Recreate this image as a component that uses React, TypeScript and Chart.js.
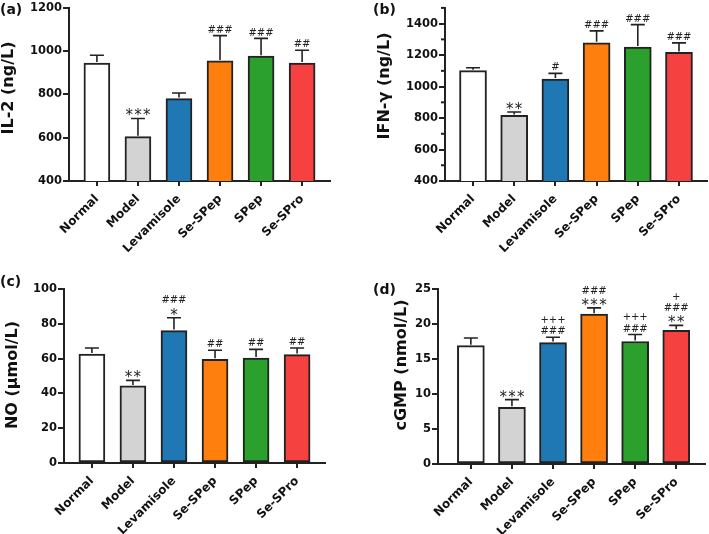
import React, { useEffect, useRef } from 'react';
import { Chart, registerables } from 'chart.js';

Chart.register(...registerables);

const categories = ['Normal', 'Model', 'Levamisole', 'Se-SPep', 'SPep', 'Se-SPro'];
const barColors = ['#ffffff', '#d3d3d3', '#1f77b4', '#ff7f0e', '#2ca02c', '#f64141'];

const il2Mean = [945, 605, 781, 955, 977, 945];
const il2Upper = [981, 689, 807, 1072, 1059, 1004];
const il2Marks = [[], ['***'], [], ['###'], ['###'], ['##']];
const il2Ticks = [400, 600, 800, 1000, 1200];

const ifnMean = [1101, 817, 1048, 1278, 1251, 1217];
const ifnUpper = [1120, 838, 1084, 1354, 1394, 1278];
const ifnMarks = [[], ['**'], ['#'], ['###'], ['###'], ['###']];
const ifnTicks = [400, 600, 800, 1000, 1200, 1400];
const ifnMinorTicks = [500, 700, 900, 1100, 1300, 1500];

const noMean = [62.6, 44.3, 76.1, 59.6, 60.3, 62.3];
const noUpper = [66.1, 47.5, 83.5, 64.8, 65.3, 66.1];
const noMarks = [[], ['**'], ['###', '*'], ['##'], ['##'], ['##']];
const noTicks = [0, 20, 40, 60, 80, 100];

const cgmpMean = [16.9, 8.1, 17.35, 21.4, 17.5, 19.1];
const cgmpUpper = [18.0, 9.2, 18.1, 22.3, 18.5, 19.8];
const cgmpMarks = [[], ['***'], ['+++', '###'], ['###', '***'], ['+++', '###'], ['+', '###', '**']];
const cgmpTicks = [0, 5, 10, 15, 20, 25];

const INK = '#222222';
const FONT = 'DejaVu Sans';

type Cfg = {
  letter: string; title: string; mean: number[]; upper: number[]; marks: string[][];
  ticks: number[]; minor: number[]; yMin: number; yMax: number;
  left: number; top: number; width: number; height: number;
  area: { l: number; t: number; r: number; b: number };
  xMin: number; xMax: number; titlePos: { x: number; y: number }; letterPos: { x: number; y: number }; barW: number;
};

const panels: Cfg[] = [
  {
    letter: '(a)', title: 'IL-2 (ng/L)', mean: il2Mean, upper: il2Upper, marks: il2Marks,
    ticks: il2Ticks, minor: [], yMin: 400, yMax: 1200,
    left: 0, top: 0, width: 355, height: 267, area: { l: 69, t: 7, r: 330, b: 181 },
    xMin: -0.68, xMax: 5.68, titlePos: { x: 9, y: 88 }, letterPos: { x: 0, y: 10 }, barW: 26,
  },
  {
    letter: '(b)', title: 'IFN-γ (ng/L)', mean: ifnMean, upper: ifnUpper, marks: ifnMarks,
    ticks: ifnTicks, minor: ifnMinorTicks, yMin: 400, yMax: 1500,
    left: 355, top: 0, width: 354, height: 267, area: { l: 90, t: 7, r: 352, b: 181 },
    xMin: -0.68, xMax: 5.68, titlePos: { x: 30, y: 86 }, letterPos: { x: 18, y: 10 }, barW: 27,
  },
  {
    letter: '(c)', title: 'NO (μmol/L)', mean: noMean, upper: noUpper, marks: noMarks,
    ticks: noTicks, minor: [], yMin: 0, yMax: 100,
    left: 0, top: 267, width: 355, height: 267, area: { l: 64, t: 22, r: 325, b: 196 },
    xMin: -0.68, xMax: 5.68, titlePos: { x: 13, y: 108 }, letterPos: { x: 0, y: 15 }, barW: 26,
  },
  {
    letter: '(d)', title: 'cGMP (nmol/L)', mean: cgmpMean, upper: cgmpUpper, marks: cgmpMarks,
    ticks: cgmpTicks, minor: [], yMin: 0, yMax: 25,
    left: 355, top: 267, width: 354, height: 267, area: { l: 83, t: 22, r: 350, b: 197 },
    xMin: -0.8, xMax: 5.7, titlePos: { x: 47, y: 98 }, letterPos: { x: 18, y: 23 }, barW: 27,
  },
];

function Panel({ cfg }: { cfg: Cfg }) {
  const ref = useRef<HTMLCanvasElement | null>(null);
  useEffect(() => {
    const c = cfg;
    const overlay = {
      id: 'overlay',
      afterDatasetsDraw(chart: any) {
        const ctx = chart.ctx;
        const xs = chart.scales.x;
        const ys = chart.scales.y;
        ctx.save();
        // error bars
        ctx.strokeStyle = INK;
        ctx.lineWidth = 1.6;
        c.mean.forEach((m, i) => {
          const x = xs.getPixelForValue(i);
          const yb = ys.getPixelForValue(m);
          const yt = ys.getPixelForValue(c.upper[i]);
          ctx.beginPath();
          ctx.moveTo(x, yb - 1);
          ctx.lineTo(x, yt);
          ctx.moveTo(x - 7, yt);
          ctx.lineTo(x + 7, yt);
          ctx.stroke();
        });
        // significance marks
        ctx.fillStyle = INK;
        ctx.textAlign = 'center';
        ctx.textBaseline = 'alphabetic';
        c.marks.forEach((lines, i) => {
          const x = xs.getPixelForValue(i);
          const yt = ys.getPixelForValue(c.upper[i]);
          const n = lines.length;
          lines.forEach((txt, k) => {
            const center = yt - 6.5 - (n - 1 - k) * 11.5;
            const isStar = txt[0] === '*';
            const fs = isStar ? 15 : 10;
            const step = isStar ? 8.8 : 8.3;
            ctx.font = `${fs}px "${FONT}"`;
            const base = center + (isStar ? 0.56 : 0.36) * fs;
            const chars = txt.split('');
            chars.forEach((ch, j) => {
              const cx = x + (j - (chars.length - 1) / 2) * step;
              ctx.fillText(ch, cx, base);
            });
          });
        });
        // minor ticks
        ctx.strokeStyle = INK;
        ctx.lineWidth = 2;
        c.minor.forEach((v) => {
          const y = ys.getPixelForValue(v);
          ctx.beginPath();
          ctx.moveTo(chart.chartArea.left - 4, y);
          ctx.lineTo(chart.chartArea.left, y);
          ctx.stroke();
        });
        ctx.restore();
      },
      afterDraw(chart: any) {
        const ctx = chart.ctx;
        ctx.save();
        ctx.font = `bold 14px "${FONT}"`;
        ctx.fillStyle = '#111111';
        ctx.textAlign = 'left';
        ctx.textBaseline = 'middle';
        ctx.fillText(c.letter, c.letterPos.x, c.letterPos.y);
        // y-axis title
        ctx.translate(c.titlePos.x, c.titlePos.y);
        ctx.rotate(-Math.PI / 2);
        ctx.font = `bold 16px "${FONT}"`;
        ctx.textAlign = 'center';
        ctx.textBaseline = 'middle';
        ctx.fillText(c.title, 0, 0);
        ctx.restore();
      },
    };
    const chart = new Chart(ref.current as HTMLCanvasElement, {
      type: 'bar',
      data: {
        datasets: [
          {
            data: c.mean.map((v, i) => ({ x: i, y: v })),
            backgroundColor: barColors,
            borderColor: INK,
            borderWidth: 2,
            borderSkipped: false,
            barThickness: c.barW,
          } as any,
        ],
      },
      options: {
        animation: false,
        responsive: false,
        devicePixelRatio: 1,
        layout: { padding: { left: 0, top: c.area.t, right: c.width - c.area.r, bottom: 0 } },
        plugins: { legend: { display: false }, tooltip: { enabled: false } },
        scales: {
          x: {
            type: 'linear',
            min: c.xMin,
            max: c.xMax,
            offset: false,
            afterBuildTicks: (ax: any) => {
              ax.ticks = categories.map((_, i) => ({ value: i }));
            },
            afterFit: (ax: any) => {
              ax.height = c.height - c.area.b;
            },
            grid: { offset: false, drawOnChartArea: false, drawTicks: true, tickLength: 5, color: INK, lineWidth: 2 },
            border: { display: true, color: INK, width: 2 },
            ticks: {
              autoSkip: false,
              minRotation: 45,
              maxRotation: 45,
              padding: 6,
              color: '#111111',
              font: { family: FONT, weight: 'bold', size: 12 },
              callback: (v: any) => categories[Math.round(Number(v))],
            },
          } as any,
          y: {
            type: 'linear',
            min: c.yMin,
            max: c.yMax,
            afterBuildTicks: (ax: any) => {
              ax.ticks = c.ticks.map((v) => ({ value: v }));
            },
            afterFit: (ax: any) => {
              ax.width = c.area.l;
            },
            grid: { drawOnChartArea: false, drawTicks: true, tickLength: 6, color: INK, lineWidth: 2 },
            border: { display: true, color: INK, width: 2 },
            ticks: {
              padding: 1,
              color: '#111111',
              font: { family: FONT, weight: 'bold', size: 11.5 },
              callback: (v: any) => String(v),
            },
            title: { display: false },
          } as any,
        },
      },
      plugins: [overlay],
    });
    return () => chart.destroy();
  }, [cfg]);
  return (
    <canvas
      ref={ref}
      width={cfg.width}
      height={cfg.height}
      style={{ position: 'absolute', left: cfg.left, top: cfg.top, width: cfg.width, height: cfg.height }}
    />
  );
}

export default function App() {
  return (
    <div style={{ position: 'absolute', left: 0, top: 0, width: 709, height: 534, background: '#ffffff' }}>
      {panels.map((p) => (
        <Panel key={p.letter} cfg={p} />
      ))}
    </div>
  );
}
